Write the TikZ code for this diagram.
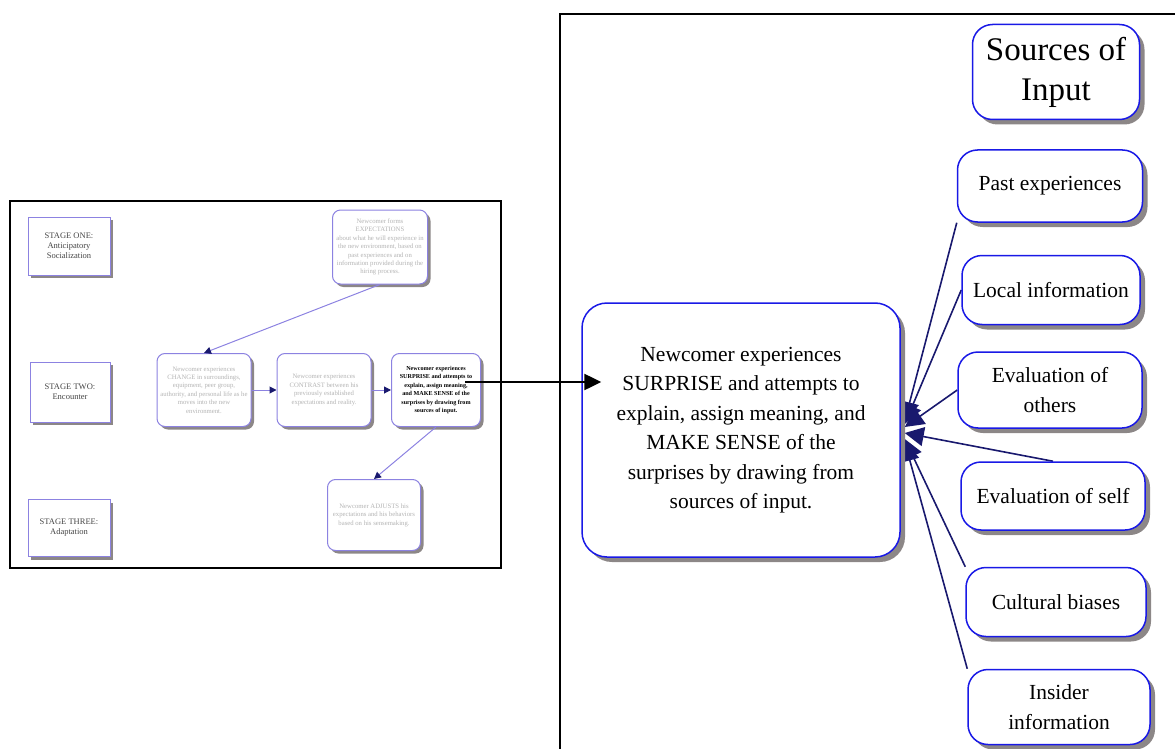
\documentclass[tikz,border=0pt]{standalone}
\usepackage{fontspec}
\setmainfont{Liberation Serif}
\usetikzlibrary{arrows.meta,shadows,backgrounds,positioning,calc}
\definecolor{boxblue}{RGB}{25,25,230}
\definecolor{linknavy}{RGB}{25,25,110}
\definecolor{fadeblue}{RGB}{140,130,225}
\definecolor{fadetext}{RGB}{180,180,180}
\definecolor{stagetext}{RGB}{70,70,70}
\definecolor{shadowgray}{RGB}{140,135,135}
\tikzset{every picture/.style={line width=1.5pt}}
\tikzset{
  source/.style={draw=boxblue, fill=white, rounded corners=20pt, align=center,
    inner sep=0pt, font=\fontsize{21.5}{29.5}\selectfont,
    drop shadow={shadow xshift=5pt, shadow yshift=-5pt, fill=shadowgray, opacity=1}},
  stagebox/.style={draw=fadeblue, fill=white, line width=1pt, align=center,
    inner sep=0pt, text=stagetext, font=\fontsize{8.5}{10}\selectfont,
    drop shadow={shadow xshift=3pt, shadow yshift=-3pt, fill=shadowgray, opacity=1}},
  fadebox/.style={draw=fadeblue, fill=white, line width=1pt, rounded corners=8pt,
    align=center, inner sep=0pt, text=fadetext, font=\fontsize{6.7}{8.4}\selectfont,
    drop shadow={shadow xshift=3pt, shadow yshift=-3pt, fill=shadowgray, opacity=1}},
  link/.style={draw=linknavy, line width=1.6pt,
    -{Triangle[length=19pt,width=19pt]}},
  smalllink/.style={draw=fadeblue, line width=1pt,
    -{Triangle[length=7pt,width=7pt,color=linknavy]}},
}

\begin{document}
\begin{tikzpicture}[x=1pt,y=-1pt]
    \useasboundingbox (0,0) rectangle (1175,749);
    % left panel: the whole model
    \draw[line width=1.3pt] (10,201) rectangle (501,568);
    \node[stagebox, minimum width=82pt, minimum height=58pt] (stage1) at (69,246)
        {STAGE ONE:\\Anticipatory\\Socialization};
    \node[stagebox, minimum width=80pt, minimum height=60pt] (stage2) at (70,392)
        {STAGE TWO:\\Encounter};
    \node[stagebox, minimum width=82pt, minimum height=57pt] (stage3) at (69,528)
        {STAGE THREE:\\Adaptation};
    \node[fadebox, minimum width=95pt, minimum height=74pt] (expect) at (380,247)
        {Newcomer forms\\EXPECTATIONS\\about what he will experience in\\the new environment, based on\\past experiences and on\\information provided during the\\hiring process.};
    \node[fadebox, minimum width=94pt, minimum height=73pt] (change) at (204,390)
        {Newcomer experiences\\CHANGE in surroundings,\\equipment, peer group,\\authority, and personal life as he\\moves into the new\\environment.};
    \node[fadebox, minimum width=94pt, minimum height=73pt] (contrast) at (324,390)
        {Newcomer experiences\\CONTRAST between his\\previously established\\expectations and reality.};
    \node[fadebox, minimum width=89pt, minimum height=73pt, text=black,
        font=\fontsize{6.1}{8.4}\selectfont\bfseries] (surprise) at (436,390)
        {Newcomer experiences\\SURPRISE and attempts to\\explain, assign meaning,\\and MAKE SENSE of the\\surprises by drawing from\\sources of input.};
    \node[fadebox, minimum width=93pt, minimum height=71pt] (adjust) at (374,515)
        {Newcomer ADJUSTS his\\expectations and his behaviors\\based on his sensemaking.};
    \draw[smalllink] (expect.south) -- (change.north);
    \draw[smalllink] (change.east) -- (contrast.west);
    \draw[smalllink] (contrast.east) -- (surprise.west);
    \draw[smalllink] (surprise.south) -- (adjust.north);

    % right panel: the sensemaking stage
    \draw[line width=2pt] (560,749) -- (560,14) -- (1175,14);
    \node[source, rounded corners=25pt, minimum width=318pt, minimum height=254pt] (sense) at (741,430)
        {Newcomer experiences\\SURPRISE and attempts to\\explain, assign meaning, and\\MAKE SENSE of the\\surprises by drawing from\\sources of input.};
    \node[source, font=\fontsize{33}{40}\selectfont, minimum width=167pt, minimum height=95pt] (title) at (1056,72)
        {Sources of\\Input};
    \node[source, minimum width=185pt, minimum height=72pt] (past) at (1050,186) {Past experiences};
    \node[source, minimum width=178pt, minimum height=69pt] (local) at (1051,290) {Local information};
    \node[source, minimum width=184pt, minimum height=76pt] (others) at (1050,390) {Evaluation of\\others};
    \node[source, minimum width=184pt, minimum height=68pt] (self) at (1053,496) {Evaluation of self};
    \node[source, minimum width=180pt, minimum height=69pt] (cultural) at (1056,602) {Cultural biases};
    \node[source, minimum width=182pt, minimum height=75pt] (insider) at (1059,707) {Insider\\information};
    \begin{scope}[on background layer]
        \draw[link] (past.south west) -- ($(sense.east)+(4,-9)$);
        \draw[link] (local.west) -- ($(sense.east)+(4,-6)$);
        \draw[link] (others.west) -- ($(sense.east)+(4,-3)$);
        \draw[link] (self.north) -- ($(sense.east)+(4,3)$);
        \draw[link] (cultural.north west) -- ($(sense.east)+(4,9)$);
        \draw[link] (insider.north west) -- ($(sense.east)+(4,12)$);
    \end{scope}

    % zoom arrow
    \draw[line width=2.5pt, -{Triangle[length=17pt,width=16pt]}]
        ($(surprise.center)+(29,-8)$) -- ($(sense.west)+(20,-48)$);
\end{tikzpicture}
\end{document}
